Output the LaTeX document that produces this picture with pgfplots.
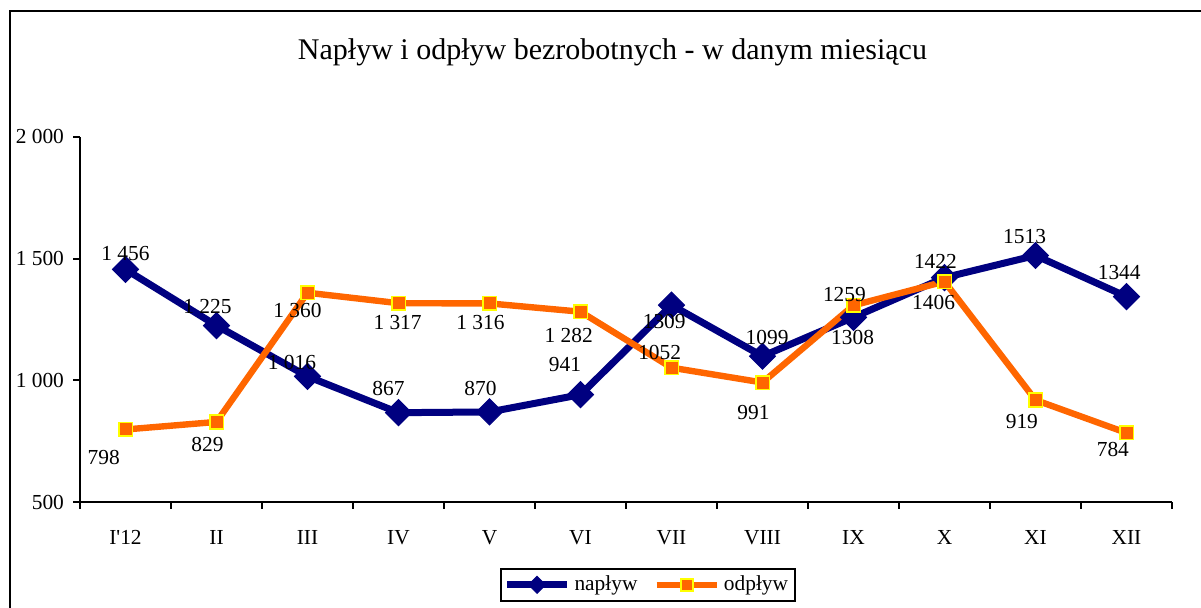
\documentclass[border=0pt]{standalone}
\usepackage{fontspec}
\setmainfont{Liberation Serif}
\usepackage{pgfplots}
\pgfplotsset{compat=1.18}
\usepackage{pgfplotstable}
\definecolor{navyc}{RGB}{0,0,128}
\definecolor{orangec}{RGB}{255,102,0}
\definecolor{yellowc}{RGB}{255,255,0}

\pgfplotstableread{
x y
0 1456
1 1225
2 1016
3 867
4 870
5 941
6 1309
7 1099
8 1259
9 1422
10 1513
11 1344
}\naplyw

\pgfplotstableread{
x y
0 798
1 829
2 1360
3 1317
4 1316
5 1282
6 1052
7 991
8 1308
9 1406
10 919
11 784
}\odplyw

\pgfplotstableread{
x y label
0 1523 1~456
0.90 1305 1~225
1.83 1075 1~016
2.89 968 867
3.90 968 870
4.83 1063 941
5.92 1240 1309
7.05 1178 1099
7.90 1351 1259
8.90 1490 1422
9.88 1589 1513
10.92 1441 1344
}\naplywlab

\pgfplotstableread{
x y label
-0.24 681 798
0.90 738 829
1.89 1289 1~360
2.99 1236 1~317
3.90 1236 1~316
4.87 1186 1~282
5.87 1116 1052
6.90 866 991
7.99 1178 1308
8.88 1318 1406
9.85 829 919
10.85 714 784
}\odplywlab

\begin{document}
\begin{tikzpicture}
\useasboundingbox (0pt,0pt) rectangle (600.5pt,304pt);
\draw[line width=1pt] (5pt,0pt) -- (5pt,298.5pt) -- (600.5pt,298.5pt);
\node[anchor=base, font=\fontsize{15}{18}\selectfont] at (306.25pt,274pt) {Napływ i odpływ bezrobotnych - w danym miesiącu};
\begin{axis}[
  at={(40pt,53pt)}, anchor=south west,
  scale only axis, width=546pt, height=182.5pt,
  xmin=-0.5, xmax=11.5, ymin=500, ymax=2000,
  axis lines*=left,
  axis line style={line width=1pt, black},
  clip=false,
  xtick={-0.5,0.5,1.5,2.5,3.5,4.5,5.5,6.5,7.5,8.5,9.5,10.5,11.5},
  xticklabels={},
  extra x ticks={0,1,2,3,4,5,6,7,8,9,10,11},
  extra x tick labels={I\textquotesingle 12,II,III,IV,V,VI,VII,VIII,IX,X,XI,XII},
  extra x tick style={tick style={draw=none}, xticklabel style={yshift=-7pt}},
  ytick={500,1000,1500,2000},
  yticklabels={500,1~000,1~500,2~000},
  tick align=outside,
  major tick length=3.5pt,
  tick style={line width=1pt, black},
  ticklabel style={font=\fontsize{10.7}{12}\selectfont},
  yticklabel style={xshift=-1pt},
  legend style={at={(0.52,-0.227)}, anchor=center, draw=black, line width=1pt,
    font=\fontsize{10.7}{12}\selectfont, inner sep=1.5pt,
    /tikz/every even column/.append style={column sep=6pt}},
  legend columns=2,
  legend image code/.code={\draw[mark repeat=2,mark phase=2,#1,mark size=3pt] plot coordinates {(0pt,0pt) (15pt,0pt) (30pt,0pt)};},
]
\addplot[navyc, line width=3.5pt, mark=square*, mark size=4.6pt, mark options={rotate=45, solid, fill=navyc, line width=0.5pt}] table {\naplyw};
\addplot[orangec, line width=3.2pt, mark=square*, mark size=3.4pt, mark options={solid, fill=orangec, draw=yellowc, line width=0.8pt}] table {\odplyw};
\legend{napływ, odpływ}
\addplot[draw=none, mark=none, forget plot, nodes near coords, point meta=explicit symbolic,
  nodes near coords style={anchor=center, font=\fontsize{10.7}{12}\selectfont, text=black, inner sep=0pt}]
  table[meta=label] {\naplywlab};
\addplot[draw=none, mark=none, forget plot, nodes near coords, point meta=explicit symbolic,
  nodes near coords style={anchor=center, font=\fontsize{10.7}{12}\selectfont, text=black, inner sep=0pt}]
  table[meta=label] {\odplywlab};
\end{axis}
\end{tikzpicture}
\end{document}
